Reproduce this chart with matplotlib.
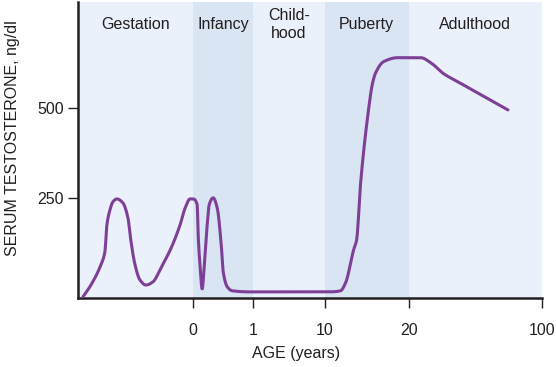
import numpy as np
import matplotlib
matplotlib.use("Agg")
import matplotlib.pyplot as plt

# Alter (Jahre) -> Achsenposition, stueckweise linear wie in der Vorlage
SCALE_AGES = [-0.75, 0, 1, 10, 20, 100]
SCALE_POS = [0, 115, 175, 246, 330, 463]

# Lebensphasen
PHASE_NAMES = ["Gestation", "Infancy", "Child-\nhood", "Puberty", "Adulthood"]
PHASE_BOUNDS = [-0.75, 0, 1, 10, 20, 100]
PHASE_COLORS = ["#EAF1FA", "#D9E5F3", "#EAF1FA", "#D9E5F3", "#EAF1FA"]

# Testosteronverlauf
AGES = [-0.717, -0.665, -0.600, -0.574, -0.561, -0.541, -0.522, -0.496,
        -0.457, -0.424, -0.404, -0.378, -0.346, -0.307, -0.261, -0.209,
        -0.143, -0.085, -0.052, -0.020,
        0.0, 0.067, 0.083, 0.117, 0.150, 0.183, 0.233, 0.267, 0.333,
        0.400, 0.467, 0.500, 0.567, 0.650, 0.95,
        5.0, 10.71, 11.90, 12.50, 13.45, 13.81, 14.29, 15.12, 15.71,
        16.07, 17.02, 18.69, 27.2, 33.2, 41.1, 49.5, 79.5]
TESTO = [-25, 8, 64, 100, 175, 217, 239, 247,
         236, 194, 128, 64, 22, 8, 17, 56,
         111, 175, 222, 247,
         247, 231, 147, 56, -3, 56, 175, 231, 250,
         222, 119, 44, 3, -8, -11,
         -11, -11, -8, 14, 105, 133, 292, 475, 569,
         597, 628, 639, 639, 625, 594, 572, 494]

X_TICKS = [0, 1, 10, 20, 100]
Y_TICKS = [250, 500]

LINE_COLOR = "#7E3F97"
TEXT_COLOR = "#231F20"
FS = 11.5


def fwd(a):
    return np.interp(a, SCALE_AGES, SCALE_POS)


def inv(p):
    return np.interp(p, SCALE_POS, SCALE_AGES)


def pchip(x, y, xs):
    """Monotone kubische Hermite-Interpolation (nur zum Glaetten der Linie)."""
    x = np.asarray(x, float)
    y = np.asarray(y, float)
    h = np.diff(x)
    d = np.diff(y) / h
    m = np.zeros_like(y)
    for k in range(1, len(x) - 1):
        if d[k - 1] * d[k] > 0:
            w1 = 2 * h[k] + h[k - 1]
            w2 = h[k] + 2 * h[k - 1]
            m[k] = (w1 + w2) / (w1 / d[k - 1] + w2 / d[k])
    m[0] = d[0]
    m[-1] = d[-1]
    idx = np.clip(np.searchsorted(x, xs) - 1, 0, len(x) - 2)
    t = (xs - x[idx]) / h[idx]
    h00 = 2 * t**3 - 3 * t**2 + 1
    h10 = t**3 - 2 * t**2 + t
    h01 = -2 * t**3 + 3 * t**2
    h11 = t**3 - t**2
    return (h00 * y[idx] + h10 * h[idx] * m[idx]
            + h01 * y[idx + 1] + h11 * h[idx] * m[idx + 1])


plt.rcParams["font.family"] = ["Liberation Sans", "DejaVu Sans"]
plt.rcParams["font.size"] = FS

fig = plt.figure(figsize=(5.56, 3.67), dpi=100)
ax = fig.add_axes([0.140, 0.188, 0.835, 0.807])
ax.set_xscale("function", functions=(fwd, inv))
ax.set_xlim(PHASE_BOUNDS[0], PHASE_BOUNDS[-1])
ax.set_ylim(-28, 794)

for i, name in enumerate(PHASE_NAMES):
    a, b = PHASE_BOUNDS[i], PHASE_BOUNDS[i + 1]
    ax.axvspan(a, b, color=PHASE_COLORS[i], lw=0, zorder=0)
    mid = inv((fwd(a) + fwd(b)) / 2)
    ax.text(mid, 0.925, name, transform=ax.get_xaxis_transform(),
            ha="center", va="center", fontsize=FS, color=TEXT_COLOR,
            linespacing=1.25)

pos = fwd(np.array(AGES))
pos_dense = np.linspace(pos[0], pos[-1], 1500)
val_dense = pchip(pos, TESTO, pos_dense)
ax.plot(inv(pos_dense), val_dense, color=LINE_COLOR, lw=2.2,
        solid_capstyle="round", solid_joinstyle="round", zorder=3)

ax.set_xticks(X_TICKS)
ax.set_xticklabels([str(t) for t in X_TICKS])
ax.set_yticks(Y_TICKS)
ax.minorticks_off()
ax.tick_params(axis="x", length=7, width=1, pad=11, colors=TEXT_COLOR,
               labelsize=FS)
ax.tick_params(axis="y", length=7, width=1, pad=3, colors=TEXT_COLOR,
               labelsize=FS)

for s in ["top", "right"]:
    ax.spines[s].set_visible(False)
for s in ["left", "bottom"]:
    ax.spines[s].set_linewidth(1.8)
    ax.spines[s].set_color(TEXT_COLOR)

ax.set_xlabel("AGE (years)", fontsize=FS, color=TEXT_COLOR)
ax.set_ylabel("SERUM TESTOSTERONE, ng/dl", fontsize=FS, color=TEXT_COLOR)
ax.xaxis.set_label_coords(0.47, -0.163)
ax.yaxis.set_label_coords(-0.125, 0.54)

fig.savefig("out.png", dpi=100)
